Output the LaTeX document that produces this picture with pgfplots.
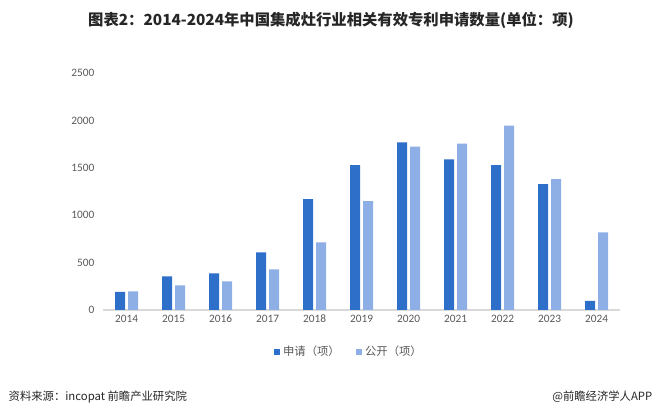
\documentclass[border=0pt]{standalone}
\usepackage{fontspec}
\usepackage{pgfplots}
\pgfplotsset{compat=1.18}
\setmainfont{Noto Sans CJK SC}
\newfontfamily\numfont{Carlito}

\definecolor{apply}{HTML}{2E6FCA}
\definecolor{publ}{HTML}{8EAEE6}
\definecolor{ticktxt}{HTML}{595959}
\definecolor{titletxt}{HTML}{262626}

\begin{document}
\begin{tikzpicture}[x=0.75pt,y=0.75pt]
% canvas 660 x 417 px, origin bottom-left
\useasboundingbox (0,0) rectangle (660,417);
\node[font=\bfseries\fontsize{11.5}{13}\selectfont, text=titletxt] at (331,397) {图表2：2014-2024年中国集成灶行业相关有效专利申请数量(单位：项)};
\node[anchor=west, font=\fontsize{8.5}{10}\selectfont, text=titletxt] at (4,20) {资料来源：incopat 前瞻产业研究院};
\node[anchor=east, font=\fontsize{8.5}{10}\selectfont, text=titletxt] at (657,20) {@前瞻经济学人APP};

\begin{axis}[
    at={(77.25pt,80.25pt)}, anchor=south west,
    scale only axis,
    width=387.75pt, height=177.75pt,
    ybar=2.25pt, bar width=7.5pt,
    xmin=-0.5, xmax=10.5,
    ymin=0, ymax=2500,
    xtick={0,...,10},
    xticklabels={2014,2015,2016,2017,2018,2019,2020,2021,2022,2023,2024},
    ytick={0,500,1000,1500,2000,2500},
    axis x line*=bottom,
    axis y line*=left,
    y axis line style={draw=none},
    x axis line style={draw=black!15, line width=0.8pt},
    major tick length=0pt,
    tick label style={font=\numfont\fontsize{8.5}{10}\selectfont, text=ticktxt},
    /pgf/number format/assume math mode=true,
    /pgf/number format/1000 sep={},
    yticklabel style={xshift=-3pt},
    legend style={at={(0.476,-0.177)}, anchor=center, draw=none,
        font=\fontsize{8.5}{10}\selectfont, text=ticktxt,
        /tikz/every even column/.append style={column sep=10pt}},
    legend columns=2,
]
\addplot[fill=apply, draw=none,
    legend image code/.code={\fill[apply] (0pt,-2.5pt) rectangle (5pt,2.5pt);}]
    coordinates {(0,190)(1,355)(2,386)(3,607)(4,1169)(5,1527)(6,1769)(7,1590)(8,1527)(9,1327)(10,95)};
\addlegendentry{申请（项）}
\addplot[fill=publ, draw=none,
    legend image code/.code={\fill[publ] (0pt,-2.5pt) rectangle (5pt,2.5pt);}]
    coordinates {(0,197)(1,260)(2,302)(3,428)(4,713)(5,1148)(6,1724)(7,1755)(8,1945)(9,1380)(10,818)};
\addlegendentry{公开（项）}
\end{axis}
\end{tikzpicture}
\end{document}
